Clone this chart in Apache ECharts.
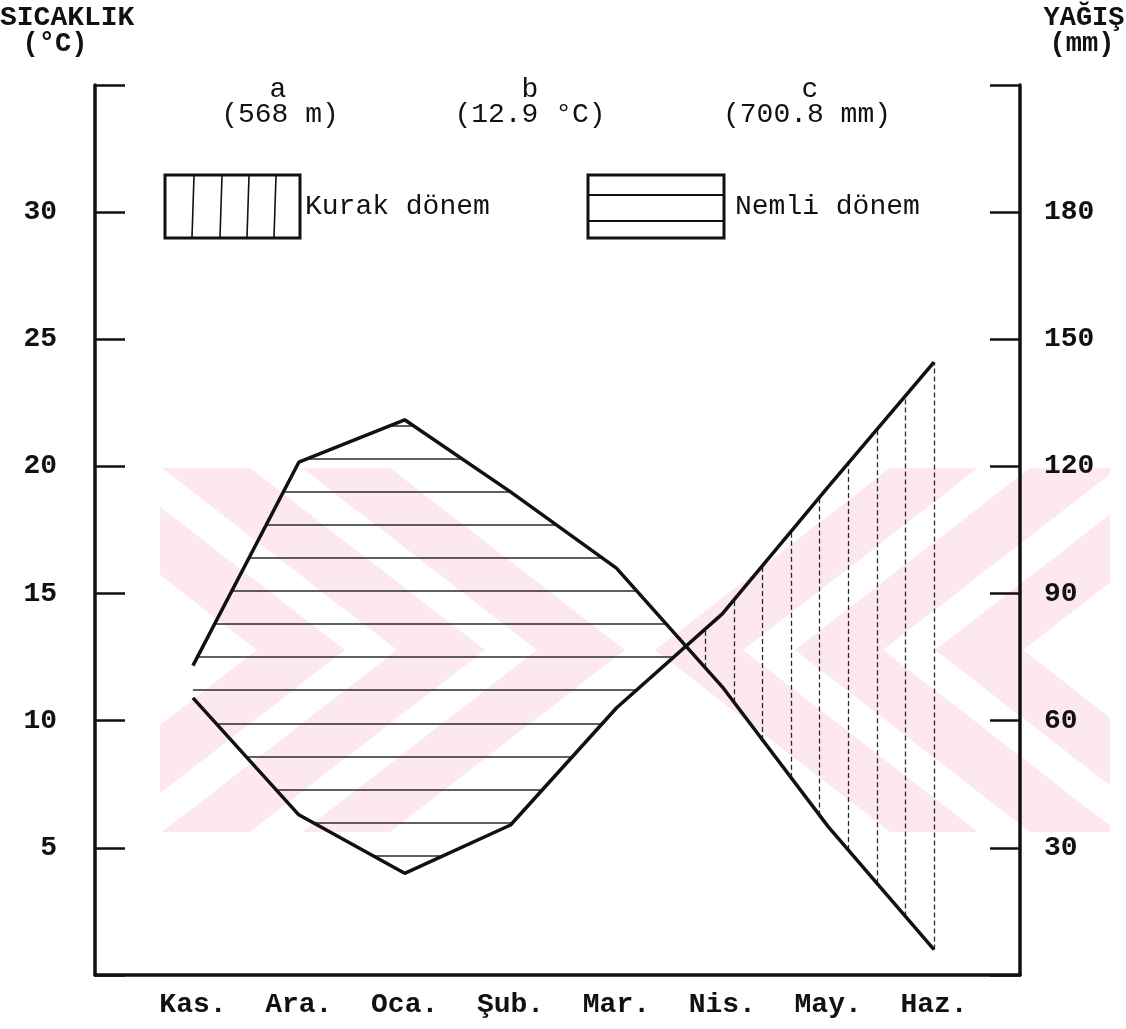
<!DOCTYPE html>
<html>
<head>
<meta charset="utf-8">
<script src="https://cdn.jsdelivr.net/npm/echarts@6/dist/echarts.min.js"></script>
<style>
  html, body { margin: 0; padding: 0; background: #ffffff; }
  #chart { width: 1126px; height: 1029px; }
</style>
</head>
<body>
<div id="chart"></div>
<script>
// Monthly climate values, November to June
const months = ['Kas.', 'Ara.', 'Oca.', 'Şub.', 'Mar.', 'Nis.', 'May.', 'Haz.'];
const temperature = [10.9, 6.3, 4.0, 5.9, 10.5, 14.2, 19.2, 24.1];   // °C
const precipitation = [73, 121, 131, 114, 96, 68, 35, 6];          // mm
const tempTicks = [5, 10, 15, 20, 25, 30];
const rainTicks = [30, 60, 90, 120, 150, 180];
const RAIN_PER_DEGREE = 6;   // 1 °C on the left scale equals 6 mm on the right scale

const FONT = '"Liberation Mono", "DejaVu Sans Mono", monospace';
const INK = '#111111';

// piecewise-linear value of a monthly series at fractional month x
function at(arr, x) {
  const i = Math.min(Math.max(Math.floor(x), 0), arr.length - 2);
  const t = x - i;
  return arr[i] + (arr[i + 1] - arr[i]) * t;
}
const rainAsDeg = precipitation.map(v => v / RAIN_PER_DEGREE);

// month where the rain curve drops below the temperature curve
let crossX = 0;
for (let i = 0; i < months.length - 1; i++) {
  const d0 = rainAsDeg[i] - temperature[i];
  const d1 = rainAsDeg[i + 1] - temperature[i + 1];
  if (d0 >= 0 && d1 < 0) { crossX = i + d0 / (d0 - d1); break; }
}

// humid period: horizontal hatching between the two curves
const humidHatch = [];
for (let lvl = 4.7; lvl < 22; lvl += 1.3) {
  let start = null, end = null;
  for (let x = 0; x <= crossX; x += 0.002) {
    const inside = at(temperature, x) <= lvl && lvl <= at(rainAsDeg, x);
    if (inside) { if (start === null) start = x; end = x; }
  }
  if (start !== null && end - start > 0.01) {
    humidHatch.push({ coords: [[start, lvl], [end, lvl]] });
  }
}

// dry period: vertical hatching between the two curves
const dryHatch = [];
for (let x = months.length - 1; x > crossX + 0.1; x -= 0.27) {
  dryHatch.push({ coords: [[x, at(rainAsDeg, x)], [x, at(temperature, x)]] });
}

// faint striped emblem behind the plot
function clipPoly(pts, x0, y0, x1, y1) {
  const edges = [
    p => p[0] >= x0, p => p[0] <= x1, p => p[1] >= y0, p => p[1] <= y1
  ];
  const cuts = [
    (a, b) => { const t = (x0 - a[0]) / (b[0] - a[0]); return [x0, a[1] + t * (b[1] - a[1])]; },
    (a, b) => { const t = (x1 - a[0]) / (b[0] - a[0]); return [x1, a[1] + t * (b[1] - a[1])]; },
    (a, b) => { const t = (y0 - a[1]) / (b[1] - a[1]); return [a[0] + t * (b[0] - a[0]), y0]; },
    (a, b) => { const t = (y1 - a[1]) / (b[1] - a[1]); return [a[0] + t * (b[0] - a[0]), y1]; }
  ];
  let out = pts;
  for (let e = 0; e < 4; e++) {
    const inp = out; out = [];
    for (let k = 0; k < inp.length; k++) {
      const cur = inp[k], prev = inp[(k + inp.length - 1) % inp.length];
      const cin = edges[e](cur), pin = edges[e](prev);
      if (cin) { if (!pin) out.push(cuts[e](prev, cur)); out.push(cur); }
      else if (pin) out.push(cuts[e](prev, cur));
    }
    if (!out.length) break;
  }
  return out;
}
const band = { x0: 160, x1: 1110, y0: 468, y1: 832 };
const ym = (band.y0 + band.y1) / 2, run = 235, thick = 88;
const emblem = [];
[345, 485, 625].forEach(a => {          // chevrons opening to the left
  emblem.push([[a, ym], [a - run, band.y0], [a - run - thick, band.y0], [a - thick, ym],
               [a - run - thick, band.y1], [a - run, band.y1]]);
});
[655, 795, 935].forEach(b => {          // chevrons opening to the right
  emblem.push([[b, ym], [b + run, band.y0], [b + run + thick, band.y0], [b + thick, ym],
               [b + run + thick, band.y1], [b + run, band.y1]]);
});
const emblemGraphics = emblem.map(p => ({
  type: 'polygon', silent: true, z: -10,
  shape: { points: clipPoly(p, band.x0, band.y0, band.x1, band.y1) },
  style: { fill: '#fce8ed', stroke: null }
}));

function label(text, x, y, opts = {}) {
  return {
    type: 'text', silent: true, z: 50,
    style: {
      text, x, y,
      font: (opts.weight || 'normal') + ' ' + (opts.size || 28) + 'px ' + FONT,
      fill: INK,
      textAlign: opts.align || 'center', align: opts.align || 'center',
      textVerticalAlign: 'middle', verticalAlign: 'middle'
    }
  };
}

const legendGraphics = [
  // dry-period swatch
  { type: 'rect', silent: true, z: 50, shape: { x: 165, y: 175, width: 135, height: 63 },
    style: { fill: '#fff', stroke: INK, lineWidth: 3 } },
  ...[192, 220, 247, 274].map(x => ({ type: 'line', silent: true, z: 51,
    shape: { x1: x + 2, y1: 176, x2: x, y2: 237 }, style: { stroke: INK, lineWidth: 1.6 } })),
  // humid-period swatch
  { type: 'rect', silent: true, z: 50, shape: { x: 588, y: 175, width: 136, height: 63 },
    style: { fill: '#fff', stroke: INK, lineWidth: 3 } },
  ...[195, 221].map(y => ({ type: 'line', silent: true, z: 51,
    shape: { x1: 589, y1: y, x2: 723, y2: y }, style: { stroke: INK, lineWidth: 1.8 } })),
  label('Kurak dönem', 305, 207, { align: 'left' }),
  label('Nemli dönem', 735, 207, { align: 'left' })
];

const textGraphics = [
  label('SICAKLIK', 0, 18, { align: 'left', weight: 'bold', size: 28 }),
  label('(°C)', 55, 44, { weight: 'bold', size: 27 }),
  label('YAĞIŞ', 1084, 18, { weight: 'bold', size: 27 }),
  label('(mm)', 1082, 44, { weight: 'bold', size: 27 }),
  label('a', 278, 90), label('(568 m)', 280, 115),
  label('b', 530, 90), label('(12.9 °C)', 530, 115),
  label('c', 810, 90), label('(700.8 mm)', 807, 115)
];

const chart = echarts.init(document.getElementById('chart'), null, { renderer: 'canvas' });
chart.setOption({
  animation: false,
  backgroundColor: '#ffffff',
  grid: { left: 95, right: 106, top: 85, bottom: 54, containLabel: false, outerBoundsMode: 'none' },
  xAxis: {
    type: 'value', min: -0.925, max: 7.812, z: 5,
    axisLine: { show: true, onZero: false, lineStyle: { color: INK, width: 3.5 } },
    axisTick: { show: false },
    splitLine: { show: false },
    axisLabel: {
      customValues: months.map((_, i) => i),
      formatter: v => months[Math.round(v)],
      margin: 16, color: INK, fontFamily: FONT, fontSize: 28, fontWeight: 'bold'
    }
  },
  yAxis: [
    {
      type: 'value', min: 0, max: 35, interval: 5, position: 'left', z: 5,
      axisLine: { show: true, onZero: false, lineStyle: { color: INK, width: 3.5 } },
      axisTick: { show: true, inside: true, length: 30, lineStyle: { color: INK, width: 2.5 } },
      splitLine: { show: false },
      axisLabel: {
        formatter: v => tempTicks.includes(v) ? String(v) : '',
        margin: 38, color: INK, fontFamily: FONT, fontSize: 28, fontWeight: 'bold'
      }
    },
    {
      type: 'value', min: 0, max: 210, interval: 30, position: 'right', z: 5,
      axisLine: { show: true, onZero: false, lineStyle: { color: INK, width: 3.5 } },
      axisTick: { show: true, inside: true, length: 30, lineStyle: { color: INK, width: 2.5 } },
      splitLine: { show: false },
      axisLabel: {
        formatter: v => rainTicks.includes(v) ? String(v) : '',
        margin: 24, color: INK, fontFamily: FONT, fontSize: 28, fontWeight: 'bold'
      }
    }
  ],
  series: [
    {
      name: 'Nemli dönem', type: 'lines', coordinateSystem: 'cartesian2d',
      xAxisIndex: 0, yAxisIndex: 0, silent: true, z: 2,
      lineStyle: { color: '#2a2a2a', width: 1.5, opacity: 1 },
      data: humidHatch
    },
    {
      name: 'Kurak dönem', type: 'lines', coordinateSystem: 'cartesian2d',
      xAxisIndex: 0, yAxisIndex: 0, silent: true, z: 2,
      lineStyle: { color: '#2a2a2a', width: 1.3, type: [5, 3], opacity: 1 },
      data: dryHatch
    },
    {
      name: 'Sıcaklık', type: 'line', xAxisIndex: 0, yAxisIndex: 0, z: 3,
      symbol: 'none', lineStyle: { color: INK, width: 3.5 },
      data: temperature.map((v, i) => [i, v])
    },
    {
      name: 'Yağış', type: 'line', xAxisIndex: 0, yAxisIndex: 1, z: 3,
      symbol: 'none', lineStyle: { color: INK, width: 3.5 },
      data: precipitation.map((v, i) => [i, v])
    }
  ],
  graphic: [...emblemGraphics, ...legendGraphics, ...textGraphics]
});
</script>
</body>
</html>
